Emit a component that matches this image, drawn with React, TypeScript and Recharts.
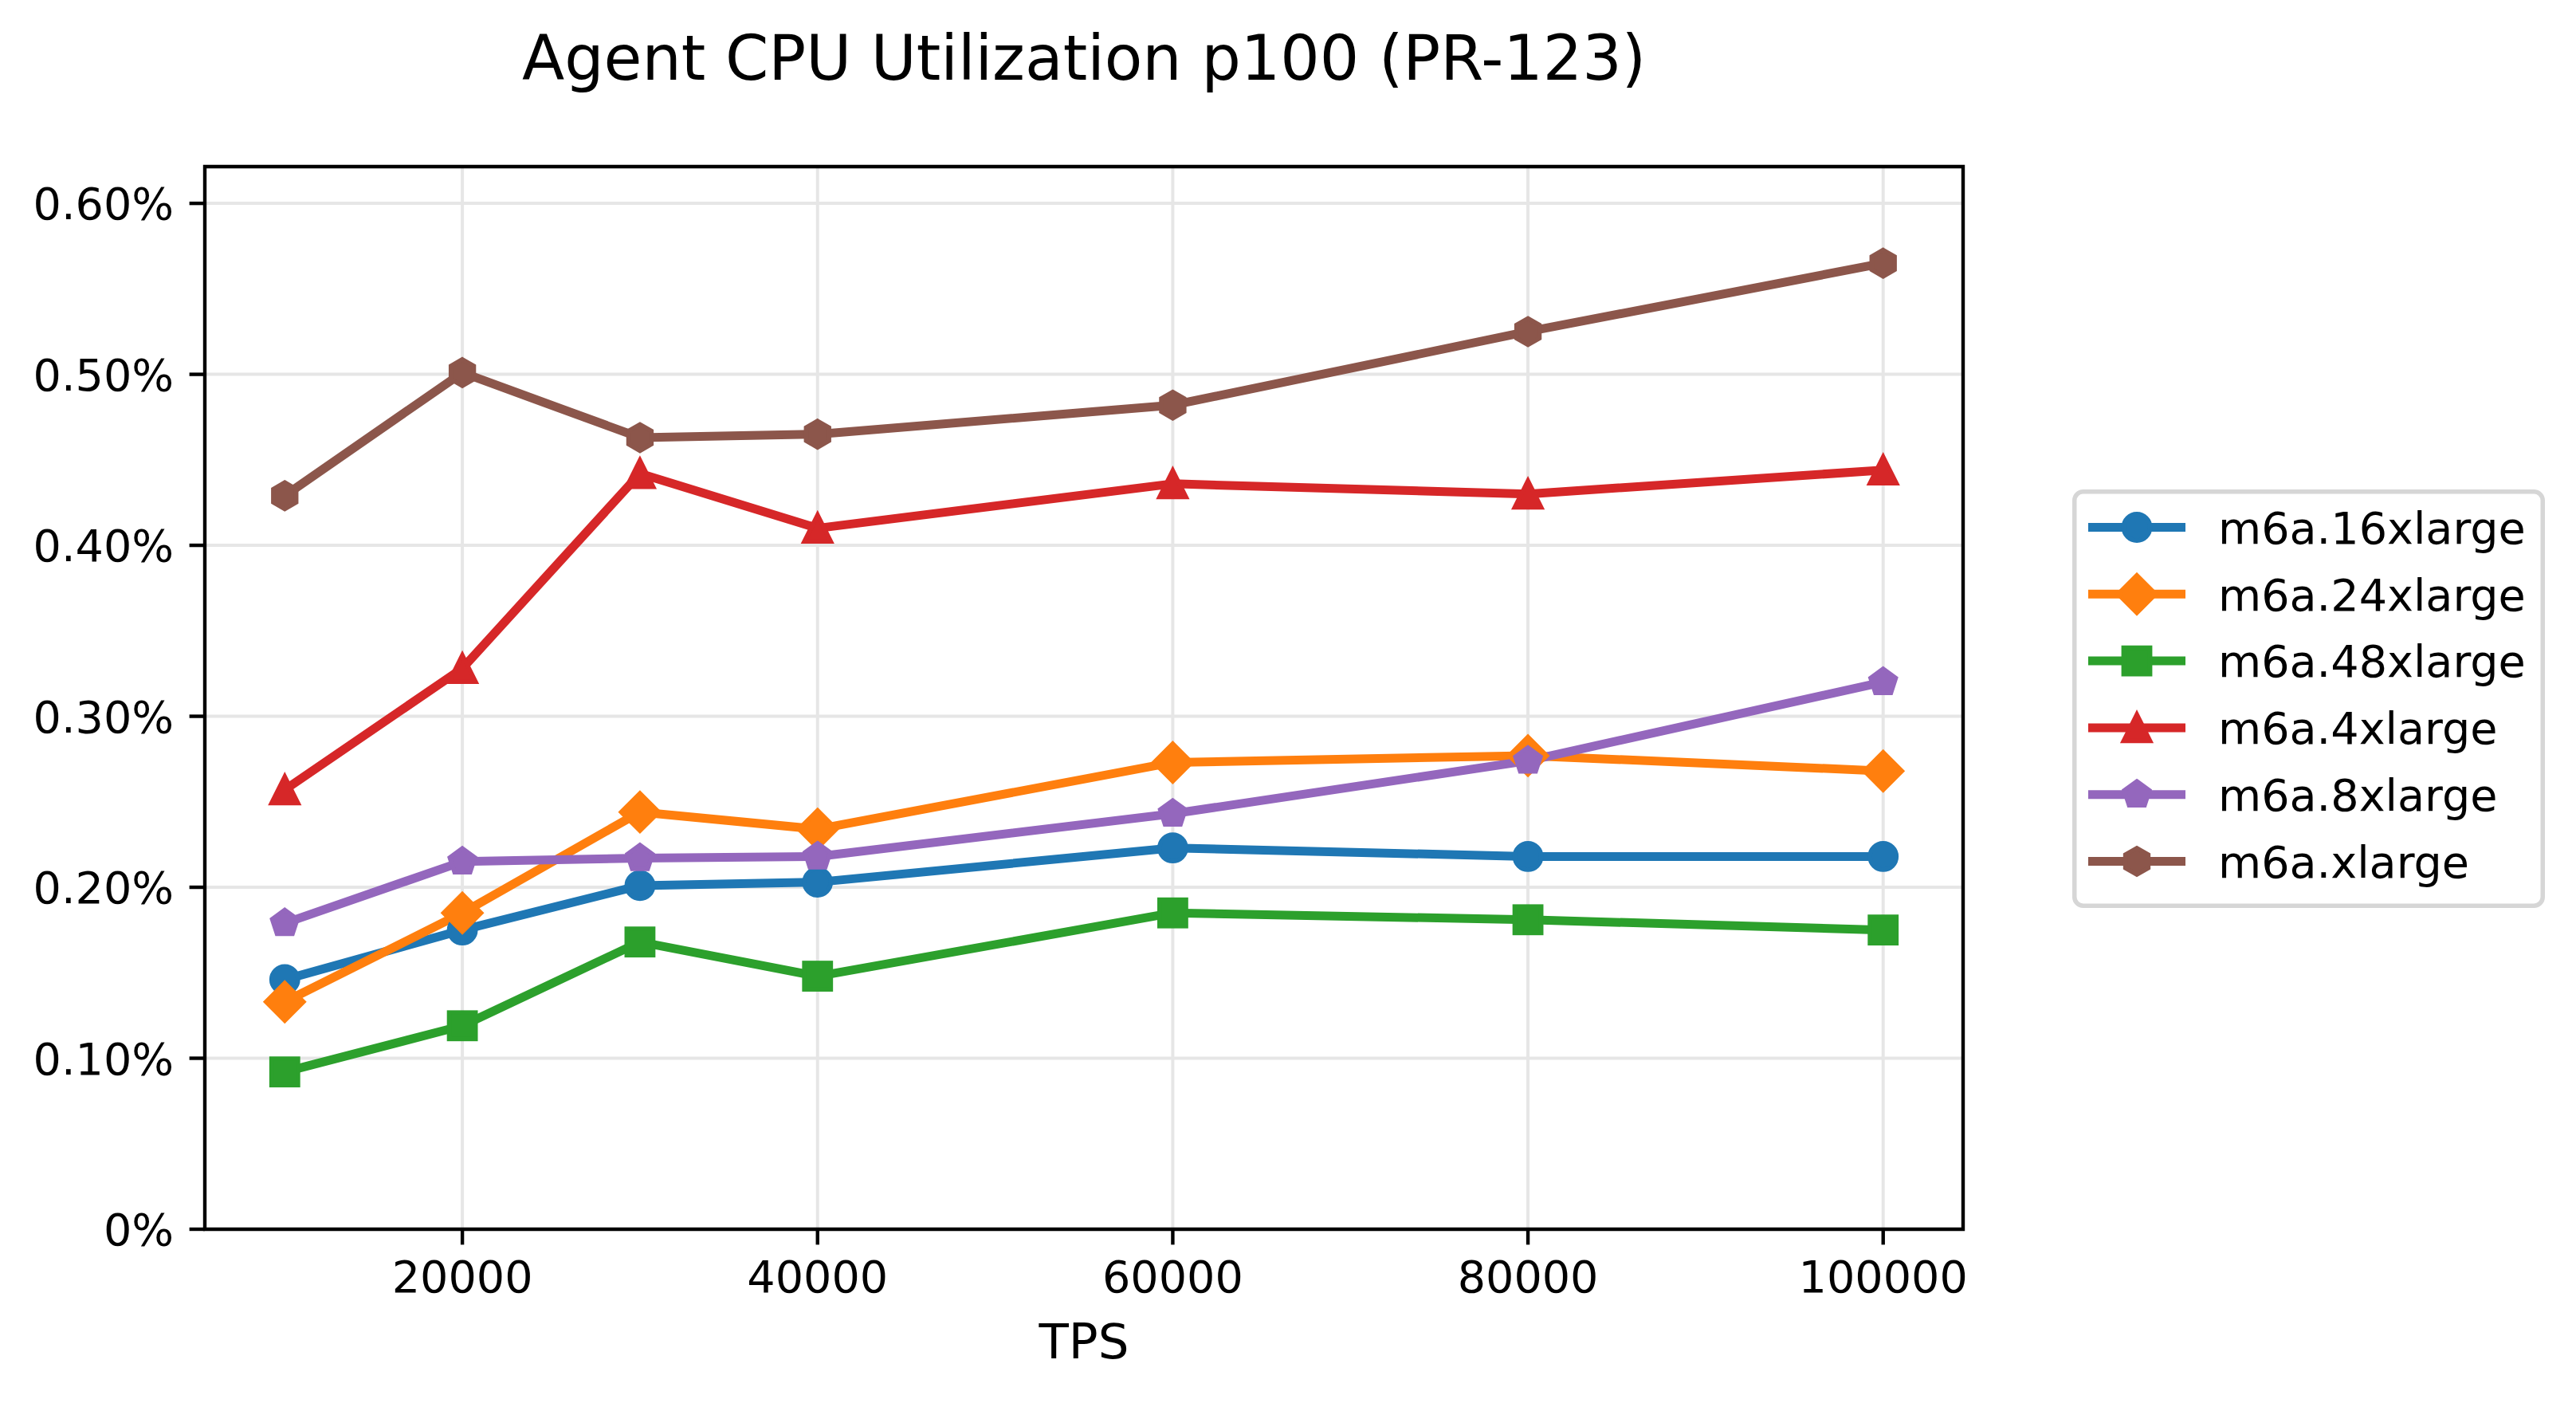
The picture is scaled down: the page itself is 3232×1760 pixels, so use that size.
import React from "react";
import {
  LineChart,
  Line,
  XAxis,
  YAxis,
  CartesianGrid,
  ReferenceArea,
} from "recharts";

const W = 3232;
const H = 1760;
const FONT = "DejaVu Sans";
const FS = 55.6; // 10pt
const LABEL_FS = 61.1; // 11pt
const TITLE_FS = 77.8; // 14pt
const CAP = 20.3; // half cap height of the tick font
const TICK_LEN = 19.4;
const SPINE_W = 4.4;
const LINE_W = 11;
const MS = 33.3; // marker size
const MEW = 5.5; // marker edge width

// TPS on the x axis, p100 CPU in percent per instance type
const tps = [10000, 20000, 30000, 40000, 60000, 80000, 100000];
const m6a16xlarge = [0.146, 0.175, 0.201, 0.203, 0.223, 0.218, 0.218];
const m6a24xlarge = [0.133, 0.185, 0.244, 0.234, 0.273, 0.277, 0.268];
const m6a48xlarge = [0.092, 0.119, 0.168, 0.148, 0.185, 0.181, 0.175];
const m6a4xlarge = [0.257, 0.328, 0.442, 0.41, 0.436, 0.43, 0.444];
const m6a8xlarge = [0.179, 0.215, 0.217, 0.218, 0.243, 0.274, 0.32];
const m6axlarge = [0.429, 0.501, 0.463, 0.465, 0.482, 0.525, 0.565];

const xTicks = [20000, 40000, 60000, 80000, 100000];
const yTicks = [0, 0.1, 0.2, 0.3, 0.4, 0.5, 0.6];
const X_MIN = 5500;
const X_MAX = 104500;
const Y_MAX = 0.565 * 1.1;

type Shape = "circle" | "diamond" | "square" | "triangle" | "pentagon" | "hexagon";

const SERIES: { key: string; name: string; color: string; shape: Shape; values: number[] }[] = [
  { key: "s16", name: "m6a.16xlarge", color: "#1f77b4", shape: "circle", values: m6a16xlarge },
  { key: "s24", name: "m6a.24xlarge", color: "#ff7f0e", shape: "diamond", values: m6a24xlarge },
  { key: "s48", name: "m6a.48xlarge", color: "#2ca02c", shape: "square", values: m6a48xlarge },
  { key: "s4", name: "m6a.4xlarge", color: "#d62728", shape: "triangle", values: m6a4xlarge },
  { key: "s8", name: "m6a.8xlarge", color: "#9467bd", shape: "pentagon", values: m6a8xlarge },
  { key: "s1", name: "m6a.xlarge", color: "#8c564b", shape: "hexagon", values: m6axlarge },
];

const rows = tps.map((t, i) => {
  const row: Record<string, number> = { tps: t };
  SERIES.forEach((s) => {
    row[s.key] = s.values[i];
  });
  return row;
});

function polygon(cx: number, cy: number, n: number, r: number) {
  const pts: string[] = [];
  for (let k = 0; k < n; k++) {
    const a = -Math.PI / 2 + (2 * Math.PI * k) / n;
    pts.push(`${cx + r * Math.cos(a)},${cy + r * Math.sin(a)}`);
  }
  return pts.join(" ");
}

function Marker({ cx, cy, shape, color }: { cx: number; cy: number; shape: Shape; color: string }) {
  const common = { fill: color, stroke: color, strokeWidth: MEW, strokeLinejoin: "miter" as const };
  const h = MS / 2;
  switch (shape) {
    case "circle":
      return <circle cx={cx} cy={cy} r={h} {...common} />;
    case "square":
      return <rect x={cx - h} y={cy - h} width={MS} height={MS} {...common} />;
    case "diamond": {
      const d = MS * Math.SQRT1_2;
      return (
        <polygon
          points={`${cx},${cy - d} ${cx + d},${cy} ${cx},${cy + d} ${cx - d},${cy}`}
          {...common}
        />
      );
    }
    case "triangle":
      return (
        <polygon
          points={`${cx},${cy - h} ${cx - h},${cy + h} ${cx + h},${cy + h}`}
          {...common}
        />
      );
    case "pentagon":
      return <polygon points={polygon(cx, cy, 5, h)} {...common} />;
    case "hexagon":
      return <polygon points={polygon(cx, cy, 6, h)} {...common} />;
  }
  return null;
}

const fmtPct = (v: number) => (v === 0 ? "0%" : `${v.toFixed(2)}%`);

function XTick(props: any) {
  const { x, y, payload } = props;
  return (
    <text x={x} y={y + TICK_LEN + 2 * CAP} textAnchor="middle" fontFamily={FONT} fontSize={FS} fill="#000">
      {String(payload.value)}
    </text>
  );
}

function YTick(props: any) {
  const { x, y, payload } = props;
  return (
    <text x={x - TICK_LEN} y={y + CAP} textAnchor="end" fontFamily={FONT} fontSize={FS} fill="#000">
      {fmtPct(payload.value)}
    </text>
  );
}

// legend box geometry
const LEG_X = 2602.75;
const LEG_Y = 616.75;
const LEG_W = 587.5;
const LEG_H = 519.5;
const LEG_ROW0 = 661.5;
const LEG_STEP = 83.8;

export default function App() {
  return (
    <div style={{ position: "absolute", left: 0, top: 0, width: W, height: H, background: "#fff" }}>
      <LineChart
        width={W}
        height={H}
        data={rows}
        margin={{ top: 209, right: 769, bottom: 0, left: 0 }}
      >
        <CartesianGrid stroke="#e6e6e6" strokeWidth={4} />
        <XAxis
          dataKey="tps"
          type="number"
          domain={[X_MIN, X_MAX]}
          ticks={xTicks}
          height={218}
          axisLine={false}
          tickLine={{ stroke: "#000", strokeWidth: SPINE_W }}
          tickSize={TICK_LEN}
          tickMargin={0}
          tick={<XTick />}
          interval={0}
        />
        <YAxis
          type="number"
          domain={[0, Y_MAX]}
          ticks={yTicks}
          width={257}
          axisLine={false}
          tickLine={{ stroke: "#000", strokeWidth: SPINE_W }}
          tickSize={TICK_LEN}
          tickMargin={0}
          tick={<YTick />}
          interval={0}
        />
        {SERIES.map((s) => (
          <Line
            key={s.key}
            type="linear"
            dataKey={s.key}
            name={s.name}
            stroke={s.color}
            strokeWidth={LINE_W}
            strokeLinejoin="round"
            isAnimationActive={false}
            activeDot={false}
            dot={(p: any) => (
              <Marker key={`${s.key}-${p.index}`} cx={p.cx} cy={p.cy} shape={s.shape} color={s.color} />
            )}
          />
        ))}
        <ReferenceArea
          x1={X_MIN}
          x2={X_MAX}
          y1={0}
          y2={Y_MAX}
          fill="none"
          fillOpacity={0}
          stroke="#000"
          strokeWidth={SPINE_W}
          strokeOpacity={1}
          ifOverflow="visible"
        />
      </LineChart>

      <svg
        width={W}
        height={H}
        style={{ position: "absolute", left: 0, top: 0, pointerEvents: "none" }}
      >
        <text x={1360} y={100} textAnchor="middle" fontFamily={FONT} fontSize={TITLE_FS} fill="#000">
          Agent CPU Utilization p100 (PR-123)
        </text>
        <text x={1360} y={1704} textAnchor="middle" fontFamily={FONT} fontSize={LABEL_FS} fill="#000">
          TPS
        </text>

        <rect
          x={LEG_X}
          y={LEG_Y}
          width={LEG_W}
          height={LEG_H}
          rx={11}
          fill="#fff"
          stroke="#d6d6d6"
          strokeWidth={5.5}
        />
        {SERIES.map((s, i) => {
          const cy = LEG_ROW0 + i * LEG_STEP;
          return (
            <g key={s.key}>
              <line x1={2620} x2={2742} y1={cy} y2={cy} stroke={s.color} strokeWidth={LINE_W} />
              <Marker cx={2681} cy={cy} shape={s.shape} color={s.color} />
              <text x={2783} y={cy + CAP} fontFamily={FONT} fontSize={FS} fill="#000">
                {s.name}
              </text>
            </g>
          );
        })}
      </svg>
    </div>
  );
}
